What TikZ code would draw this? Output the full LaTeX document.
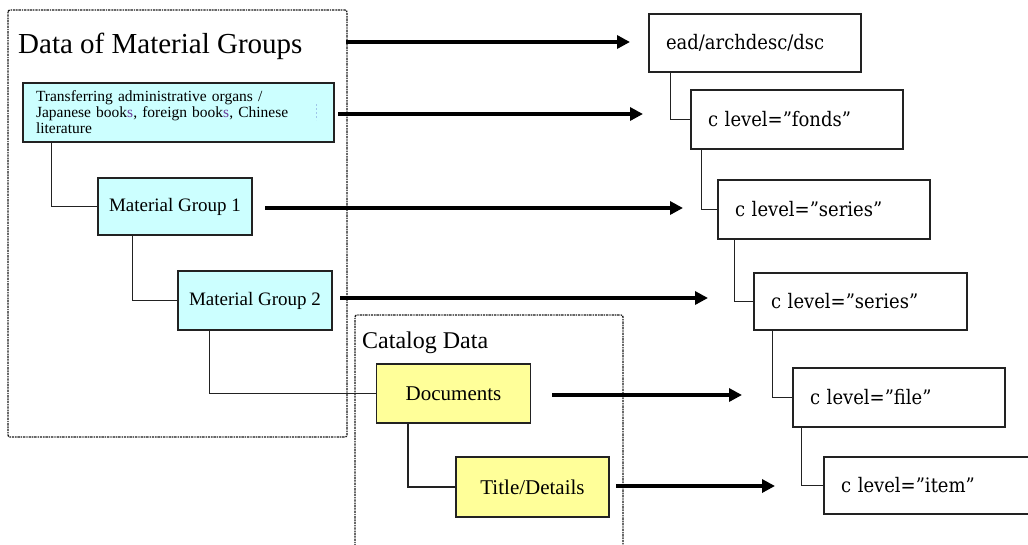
\documentclass[tikz,border=0pt]{standalone}
\usepackage{fontspec}
\setmainfont{Liberation Serif}
\newfontfamily\xmlfont{DejaVu Serif Condensed}
\usetikzlibrary{arrows.meta}
\definecolor{groupfill}{HTML}{CCFFFF}
\definecolor{catfill}{HTML}{FFFF99}
\definecolor{edgeline}{HTML}{222222}
\definecolor{plural}{HTML}{6A3D9A}
\definecolor{stray}{HTML}{9FC6E8}
\begin{document}
\begin{tikzpicture}[x=1pt,y=-1pt,
  frame/.style={draw=black!90, line width=1.3pt, dash pattern=on 1.4pt off 0.9pt on 2.4pt off 0.9pt, rounded corners=2pt},
  groupbox/.style={draw=edgeline, line width=1.3pt, fill=groupfill, inner sep=0pt,
    minimum width=154pt, minimum height=58pt, font=\fontsize{19}{22}\selectfont},
  catbox/.style={draw=edgeline, line width=1.3pt, fill=catfill, inner sep=0pt,
    minimum width=154pt, minimum height=59pt, font=\fontsize{21}{24}\selectfont},
  xmlbox/.style={draw=edgeline, line width=1.3pt, fill=white, inner ysep=0pt, inner xsep=17pt,
    text width=178pt, align=left, minimum height=58pt, font=\xmlfont\fontsize{20}{24}\selectfont},
  link/.style={draw=edgeline, line width=1.4pt},
  mapto/.style={line width=4.5pt, -{Triangle[length=13pt,width=13pt]}},
  title/.style={inner sep=0pt, anchor=base west}
]
\useasboundingbox (0,0) rectangle (1028,544);

% grouping frames
\draw[frame] (8,10) rectangle (347,437);
\draw[frame] (355,560) -- (355,315) -- (623,315) -- (623,560);

\node[title, font=\fontsize{29}{32}\selectfont] (grouptitle) at (18,53) {Data of Material Groups};
\node[title, font=\fontsize{24}{27}\selectfont] (cattitle) at (362,348) {Catalog Data};

% material group hierarchy
\node[groupbox, minimum width=311pt, minimum height=59pt, text width=285pt, inner xsep=13pt,
  align=left, font=\fontsize{15.5}{16}\selectfont] (tr) at (178.5,112.5)
  {Transferring administrative organs /\\
   Japanese book{\color{plural}s}, foreign book{\color{plural}s}, Chinese\\
   literature};
\draw[stray, line width=0.6pt, dash pattern=on 2pt off 2pt] (316,104) -- (316,120);
\node[groupbox, minimum height=57pt] (mg1) at (175,206.5) {Material Group 1};
\node[groupbox, minimum height=59pt] (mg2) at (255,300.5) {Material Group 2};

% catalog hierarchy
\node[catbox] (doc) at (453.5,393.5) {Documents};
\node[catbox, minimum width=153pt, minimum height=60pt] (td) at (532.5,487) {Title/Details};

% EAD hierarchy
\node[xmlbox] (ead) at (755,43) {ead/archdesc/dsc};
\node[xmlbox, minimum height=59pt] (fonds) at (797,119.5) {c level=”fonds”};
\node[xmlbox, minimum height=59pt] (ser1) at (824,209.5) {c level=”series”};
\node[xmlbox, minimum height=57pt, text width=179pt] (ser2) at (860.5,301.5) {c level=”series”};
\node[xmlbox, minimum height=59pt] (file) at (899,397.5) {c level=”file”};
\node[xmlbox, minimum height=57pt] (item) at (930,485.5) {c level=”item”};

% tree links
\draw[link] ([xshift=29pt]tr.south west) |- (mg1.west);
\draw[link] ([xshift=35pt]mg1.south west) |- (mg2.west);
\draw[link] ([xshift=32pt]mg2.south west) |- (doc.west);
\draw[link] ([xshift=32pt]doc.south west) |- (td.west);
\draw[link] ([xshift=22pt]ead.south west) |- (fonds.west);
\draw[link] ([xshift=11pt]fonds.south west) |- (ser1.west);
\draw[link] ([xshift=17pt]ser1.south west) |- (ser2.west);
\draw[link] ([xshift=19pt]ser2.south west) |- (file.west);
\draw[link] ([xshift=9pt]file.south west) |- (item.west);

% mapping arrows
\coordinate (s1) at (346,42);  \coordinate (e1) at (630,42);
\coordinate (s2) at (338,114); \coordinate (e2) at (643,114);
\coordinate (s3) at (265,208); \coordinate (e3) at (683,208);
\coordinate (s4) at (340,298); \coordinate (e4) at (708,298);
\coordinate (s5) at (552,395); \coordinate (e5) at (742,395);
\coordinate (s6) at (616,486); \coordinate (e6) at (775,486);
\foreach \i in {1,...,6} \draw[mapto] (s\i) -- (e\i);
\end{tikzpicture}
\end{document}
